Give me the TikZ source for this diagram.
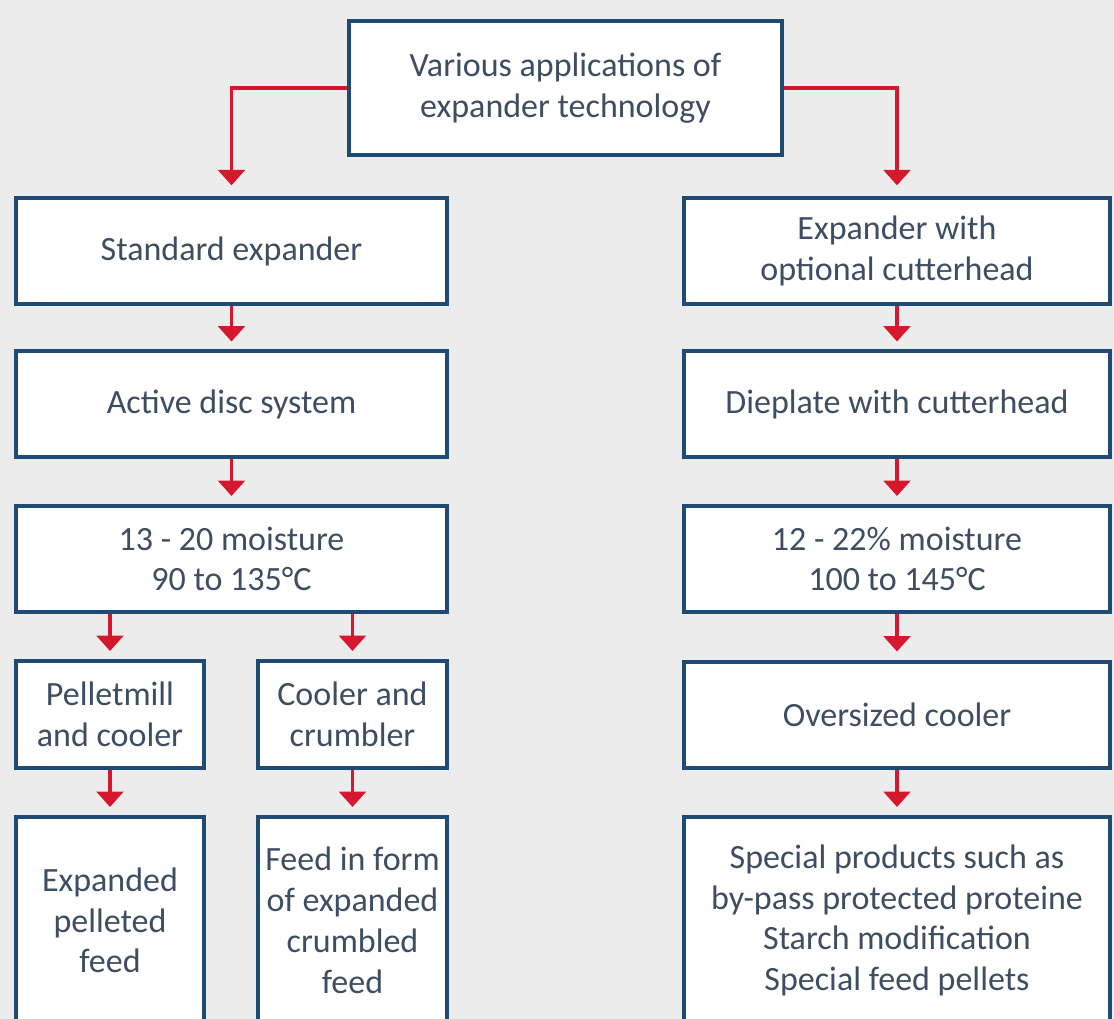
\documentclass[tikz,border=0pt]{standalone}
\usepackage{fontspec}
\setmainfont{Carlito}
\usetikzlibrary{arrows.meta}
\definecolor{bgc}{RGB}{236,236,236}
\definecolor{navy}{RGB}{30,74,116}
\definecolor{txt}{RGB}{62,78,98}
\definecolor{arr}{RGB}{214,24,46}
\tikzset{
  box/.style={draw=navy, line width=3pt, fill=white, text=txt, align=center,
    inner sep=0pt, font=\fontsize{25.5pt}{30.6pt}\selectfont},
  wide/.style={box, minimum width=323.25pt, minimum height=79.5pt},
  rwide/.style={box, minimum width=319.5pt, minimum height=79.5pt},
  small/.style={box, minimum width=141.5pt, minimum height=80.25pt},
  tall/.style={box, minimum height=155.25pt},
  flow/.style={draw=arr, line width=2.3pt,
    -{Triangle[width=20pt,length=11.5pt]}, shorten >=6pt},
}
\begin{document}
\begin{tikzpicture}[x=0.75pt,y=-0.75pt]
\fill[bgc] (0,0) rectangle (1114,1019);
\useasboundingbox (0,0) rectangle (1114,1019);
\node[box, minimum width=324.75pt, minimum height=100.5pt] (top) at (565.5,88)
  {Various applications of\\expander technology};
% left column
\node[wide] (std) at (231.5,251) {Standard expander};
\node[wide] (ads) at (231.5,404.5) {Active disc system};
\node[wide] (lm) at (231.5,559) {13 - 20 moisture\\90 to 135°C};
\node[small] (pel) at (110,714.5) {Pelletmill\\and cooler};
\node[small] (coo) at (352.5,714.5) {Cooler and\\crumbler};
\node[tall, minimum width=141pt] (exf) at (110,920.5) {Expanded\\pelleted\\feed};
\node[tall, minimum width=141.75pt] (fif) at (352.5,920.5) {Feed in form\\of expanded\\crumbled\\feed};
% right column
\node[rwide] (ewc) at (897,251) {Expander with\\optional cutterhead};
\node[rwide] (dwc) at (897,404.5) {Dieplate with cutterhead};
\node[rwide] (rm) at (897,559) {12 - 22\% moisture\\100 to 145°C};
\node[rwide] (osc) at (897,714.5) {Oversized cooler};
\node[tall, minimum width=319.5pt] (spp) at (897,920.5)
  {Special products such as\\by-pass protected proteine\\Starch modification\\Special feed pellets};
% connectors
\draw[flow, shorten >=8pt] (top.west) -| (std.north);
\draw[flow, shorten >=8pt] (top.east) -| (ewc.north);
\draw[flow] (std) -- (ads);
\draw[flow] (ads) -- (lm);
\draw[flow] (lm.south -| pel.north) -- (pel.north);
\draw[flow] (lm.south -| coo.north) -- (coo.north);
\draw[flow] (pel) -- (exf);
\draw[flow] (coo) -- (fif);
\draw[flow] (ewc) -- (dwc);
\draw[flow] (dwc) -- (rm);
\draw[flow] (rm) -- (osc);
\draw[flow] (osc) -- (spp);
\end{tikzpicture}
\end{document}
